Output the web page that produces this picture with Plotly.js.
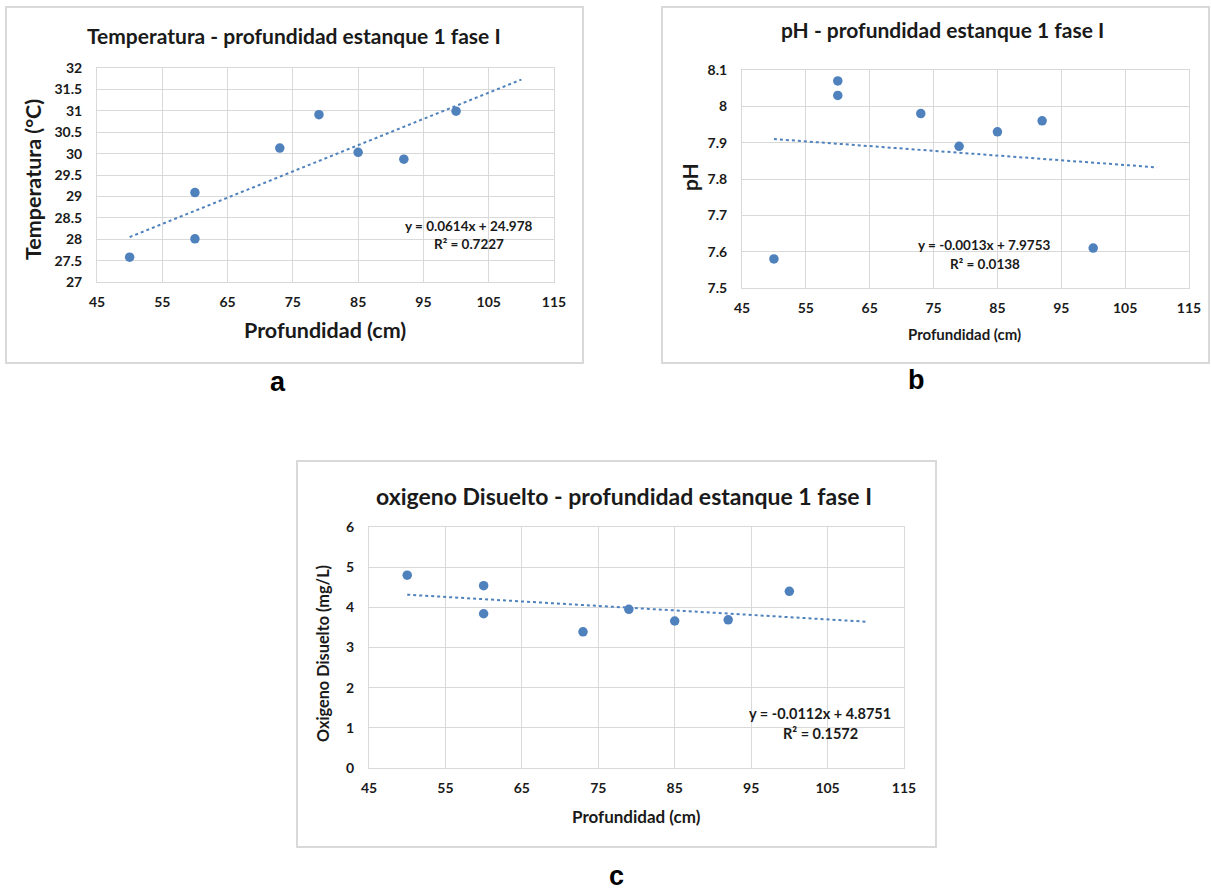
<!DOCTYPE html>
<html><head><meta charset="utf-8">
<script src="https://cdn.plot.ly/plotly-3.0.1.min.js"></script>
<style>html,body{margin:0;padding:0;background:#fff}#chart{width:1211px;height:892px}</style>
</head><body><div id="chart"></div>
<script>
// ---- data ----
const profundidad = [50, 60, 60, 73, 79, 85, 92, 100];
const temperatura = [27.58, 29.09, 28.01, 30.13, 30.91, 30.03, 29.87, 30.99];
const ph = [7.58, 8.07, 8.03, 7.98, 7.89, 7.93, 7.96, 7.61];
const oxigeno = [4.80, 4.54, 3.84, 3.39, 3.95, 3.66, 3.69, 4.40];
const trendX = [50, 110];
const trendTemp = [28.05, 31.73];
const trendPh = [7.910, 7.832];
const trendOx = [4.315, 3.643];
const xTicks = [45, 55, 65, 75, 85, 95, 105, 115];
const tempTicks = [27, 27.5, 28, 28.5, 29, 29.5, 30, 30.5, 31, 31.5, 32];
const phTicks = [7.5, 7.6, 7.7, 7.8, 7.9, 8, 8.1];
const oxTicks = [0, 1, 2, 3, 4, 5, 6];

const W = 1211, H = 892;
const px = x => x / W;
const py = y => 1 - y / H;
const FONT = 'Lato, "Open Sans", sans-serif';
const BLUE = '#4f81bd';
const GRID = '#d9d9d9';
const TXT = '#1a1a1a';

function pts(xa, ya, y) {
  return {x: profundidad, y: y, xaxis: xa, yaxis: ya, type: 'scatter', mode: 'markers',
    marker: {color: BLUE, size: 9.5}, hoverinfo: 'x+y', showlegend: false};
}
function trend(xa, ya, y) {
  return {x: trendX, y: y, xaxis: xa, yaxis: ya, type: 'scatter', mode: 'lines',
    line: {color: BLUE, width: 2, dash: 'dot'}, hoverinfo: 'skip', showlegend: false};
}
const data = [
  trend('x', 'y', trendTemp), pts('x', 'y', temperatura),
  trend('x2', 'y2', trendPh), pts('x2', 'y2', ph),
  trend('x3', 'y3', trendOx), pts('x3', 'y3', oxigeno)
];

function xax(d0, d1, anchor) {
  return {domain: [px(d0), px(d1)], anchor: anchor, range: [45, 115], tickvals: xTicks,
    showgrid: true, gridcolor: GRID, gridwidth: 1, zeroline: false,
    showline: true, linecolor: GRID, linewidth: 1, mirror: true,
    ticks: 'outside', ticklen: 7, tickcolor: 'rgba(0,0,0,0)',
    tickfont: {family: FONT, size: 14, color: TXT, weight: 'bold'}, fixedrange: true};
}
function yax(top, bottom, anchor, range, ticks) {
  return {domain: [py(bottom), py(top)], anchor: anchor, range: range, tickvals: ticks,
    showgrid: true, gridcolor: GRID, gridwidth: 1, zeroline: false,
    showline: true, linecolor: GRID, linewidth: 1, mirror: true,
    ticks: 'outside', ticklen: 11, tickcolor: 'rgba(0,0,0,0)',
    tickfont: {family: FONT, size: 14, color: TXT, weight: 'bold'}, fixedrange: true};
}

function ann(text, x, y, size, opts) {
  return Object.assign({text: text, xref: 'paper', yref: 'paper', x: px(x), y: py(y),
    xanchor: 'center', yanchor: 'middle', showarrow: false,
    font: {family: FONT, size: size, color: TXT, weight: 'bold'}}, opts || {});
}
function letter(text, x, y) {
  return {text: text, xref: 'paper', yref: 'paper', x: px(x), y: py(y), xanchor: 'center', yanchor: 'middle',
    showarrow: false, font: {family: 'Liberation Sans, Arial, sans-serif', size: 27, color: '#000', weight: 'bold'}};
}

const annotations = [
  // titles
  ann('Temperatura - profundidad estanque 1 fase I', 294, 35, 21),
  ann('pH - profundidad estanque 1 fase I', 942, 30, 21),
  ann('oxigeno Disuelto - profundidad estanque 1 fase I', 624, 496, 23),
  // axis titles
  ann('Profundidad (cm)', 325, 330, 21.5),
  ann('Temperatura (°C)', 33, 180, 21.5, {textangle: -90}),
  ann('Profundidad (cm)', 964, 334, 15),
  ann('pH', 690, 177, 21, {textangle: -90}),
  ann('Profundidad (cm)', 636, 816, 17),
  ann('Oxigeno Disuelto (mg/L)', 322, 654, 16.3, {textangle: -90}),
  // equations
  ann('y = 0.0614x + 24.978', 469, 226, 13.5),
  ann('R² = 0.7227', 469, 244, 13.5),
  ann('y = -0.0013x + 7.9753', 984, 245, 13.5),
  ann('R² = 0.0138', 985, 264, 13.5),
  ann('y = -0.0112x + 4.8751', 820, 713, 14.5),
  ann('R² = 0.1572', 820, 733, 14.5),
  // panel letters
  letter('a', 278, 382),
  letter('b', 916, 380),
  letter('c', 616, 876)
];

function box(x0, y0, x1, y1) {
  return {type: 'rect', xref: 'paper', yref: 'paper', x0: px(x0), x1: px(x1), y0: py(y1), y1: py(y0),
    line: {color: GRID, width: 2}, fillcolor: 'rgba(0,0,0,0)', layer: 'below'};
}

const layout = {
  width: W, height: H, margin: {l: 0, r: 0, t: 0, b: 0},
  paper_bgcolor: '#ffffff', plot_bgcolor: '#ffffff', showlegend: false,
  font: {family: FONT, color: TXT},
  xaxis: xax(97, 554, 'y'),
  yaxis: yax(68, 282, 'x', [27, 32], tempTicks),
  xaxis2: xax(742, 1189, 'y2'),
  yaxis2: yax(70, 288, 'x2', [7.5, 8.1], phTicks),
  xaxis3: xax(369, 904, 'y3'),
  yaxis3: yax(527, 768, 'x3', [0, 6], oxTicks),
  annotations: annotations,
  shapes: [box(6, 7, 583, 363), box(662, 7, 1209, 363), box(297, 461, 936, 847)]
};

Plotly.newPlot('chart', data, layout, {displayModeBar: false, staticPlot: true});
</script>
</body></html>
